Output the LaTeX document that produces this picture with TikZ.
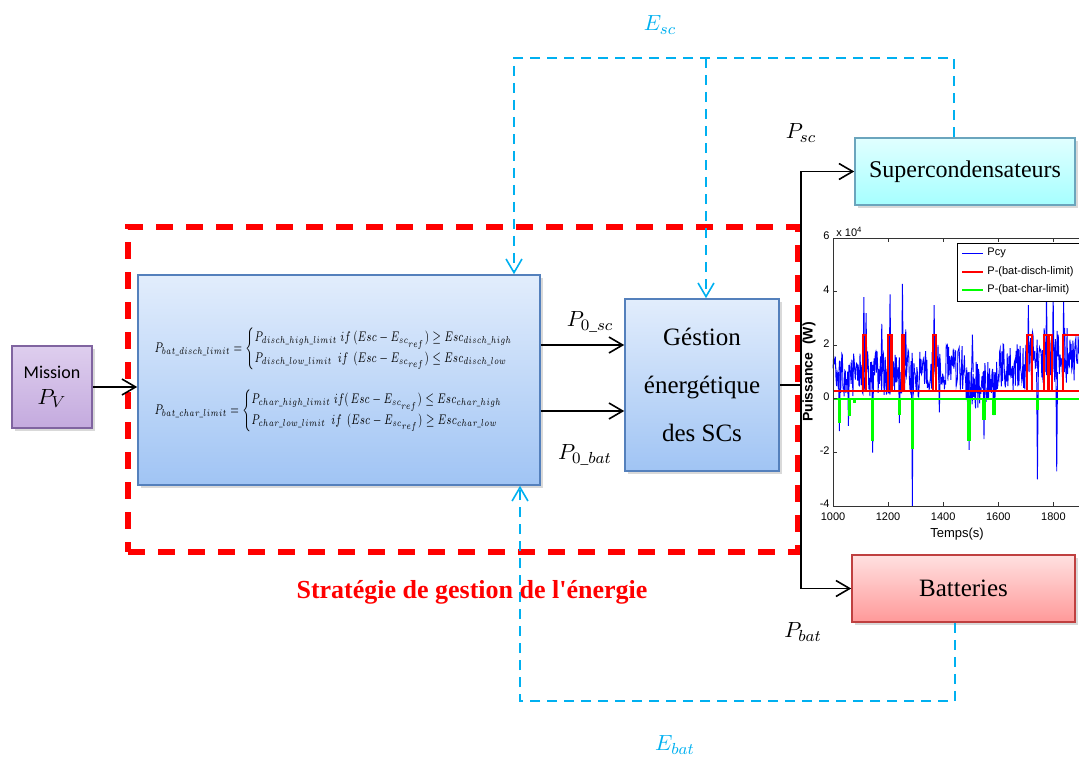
\documentclass[tikz,border=0pt]{standalone}
\usepackage{amsmath}
\usepackage{fontspec}
\setmainfont{Liberation Serif}
\newfontfamily\calfont{Carlito}
\newfontfamily\plotfont{Liberation Sans}
\usetikzlibrary{arrows.meta,shadows}
\definecolor{sigblue}{RGB}{0,176,240}
\definecolor{boxtop}{RGB}{226,237,252}
\definecolor{boxbot}{RGB}{160,196,244}
\definecolor{boxline}{RGB}{84,128,188}
\definecolor{mistop}{RGB}{222,206,238}
\definecolor{misbot}{RGB}{196,170,222}
\definecolor{misline}{RGB}{128,100,160}

\begin{document}
\begin{tikzpicture}[x=0.5pt, y=-0.5pt, >={Straight Barb[length=2.4mm, width=2.8mm]},
	shade/.style={drop shadow={opacity=0.3, shadow xshift=1.5pt, shadow yshift=-1.5pt}},
	box/.style={draw=boxline, thick, top color=boxtop, bottom color=boxbot, shade},
	sig/.style={sigblue, thick, dash pattern=on 5pt off 3.5pt},
	flow/.style={->, thick},
	lab/.style={font=\fontsize{11}{13}\selectfont},
	ticklab/.style={font=\plotfont\fontsize{5.5}{6.5}\selectfont, inner sep=1pt}]
	\useasboundingbox (0,0) rectangle (1079,765);

	\node[draw=misline, thick, top color=mistop, bottom color=misbot, minimum width=40pt, minimum height=41pt, align=center, shade, font=\calfont\fontsize{9}{13}\selectfont] (mission) at (52,387) {Mission\\\fontsize{11}{13}\selectfont$P_V$};
	\node[box, minimum width=201pt, minimum height=105pt, font=\fontsize{7}{8}\selectfont, align=left] (strat) at (339,380) {%
		\scalebox{0.7}[1]{$P_{bat\_disch\_limit}=\begin{cases}P_{disch\_high\_limit}\; if\ (Esc-E_{sc_{ref}})\geq Esc_{disch\_high}\\ P_{disch\_low\_limit}\; \ if\ \ (Esc-E_{sc_{ref}})\leq Esc_{disch\_low}\end{cases}$}\\[9pt]
		\scalebox{0.7}[1]{$P_{bat\_char\_limit}=\begin{cases}P_{char\_high\_limit}\; if(\,Esc-E_{sc_{ref}})\leq Esc_{char\_high}\\ P_{char\_low\_limit}\; \ if\ \ (Esc-E_{sc_{ref}})\geq Esc_{char\_low}\end{cases}$}};
	\node[box, minimum width=77pt, minimum height=86pt, align=center, font=\fontsize{12.5}{24}\selectfont] (gestion) at (702,385) {Géstion\\énergétique\\des SCs};
	\node[draw=cyan!45!gray, thick, top color=cyan!12, bottom color=cyan!35, minimum width=110pt, minimum height=33.5pt, shade, font=\fontsize{12}{15}\selectfont] (super) at (965,171.5) {Supercondensateurs};
	\node[draw=red!50!gray, thick, top color=red!12, bottom color=red!40, minimum width=111.5pt, minimum height=33.5pt, shade, font=\fontsize{12.5}{15}\selectfont] (batt) at (963.5,588.5) {Batteries};
	\node[draw=red, line width=3pt, dash pattern=on 8.5pt off 6.5pt, minimum width=335pt, minimum height=162.5pt] (zone) at (463,389.5) {};
	\node[text=red, font=\bfseries\fontsize{13}{15}\selectfont] (zonelab) at (472,592) {Stratégie de gestion de l\textquotesingle énergie};

	\draw[flow] (mission.east) -- (mission.east -| strat.west);
	\draw[flow] ([yshift=17.5pt]strat.east) -- ([yshift=17.5pt]strat.east -| gestion.west);
	\draw[flow] ([yshift=-15.5pt]strat.east) -- ([yshift=-15.5pt]strat.east -| gestion.west);
	\node[lab] (p0sc) at (590,322) {$P_{0\_sc}$};
	\node[lab] (p0bat) at (585,455) {$P_{0\_bat}$};

	\coordinate (split) at (gestion.east -| zone.east);
	\draw[thick] (gestion.east) -- (split);
	\draw[flow] (split) |- (super.west);
	\draw[flow] (split) |- (batt.west);
	\node[lab] (psc) at (801,133) {$P_{sc}$};
	\node[lab] (pbat) at (803,632) {$P_{bat}$};

	\coordinate (esc1) at (514,58);
	\coordinate (esc2) at (706,58);
	\coordinate (esc3) at (954,58);
	\draw[sig, ->] (super.north -| esc3) -- (esc3) -- (esc1) -- (esc1 |- strat.north);
	\draw[sig, ->] (esc2) -- (esc2 |- gestion.north);
	\node[lab, text=sigblue] (esclab) at (660,25) {$E_{sc}$};
	\coordinate (eb1) at (520,701);
	\coordinate (eb2) at (955,701);
	\draw[sig, ->] (batt.south -| eb2) -- (eb2) -- (eb1) -- (eb1 |- strat.south);
	\node[lab, text=sigblue] (eblab) at (675,745) {$E_{bat}$};

	\begin{scope}
		\clip (790,215) rectangle (1079,545);
		\fill[white] (833,238) rectangle (1110,506);
		\begin{scope}[shift={(833,399)}, x=0.13775pt, y=13.4pt]
			\pgfmathsetseed{7}
			\draw[blue, line width=0.45pt] plot[domain=0:892, samples=420] (\x, {0.95+0.9*rand+0.3*(\x>370)*(\x<480)-0.4*(\x>480)*(\x<600)+0.2*(\x>600)*(\x<700)+0.7*(\x>700)+0.5*rand*(\x>700)});
			\foreach \t/\p in {112/3.8,120/3.2,177/2.8,207/3.9,252/4.3,264/2.6,367/3.5,506/2.4,709/3.5,775/4,799/4,837/3.8,23/-1.2,56/-1.0,144/-2.0,288/-4.0,241/-0.9,386/-0.5,494/-1.9,548/-1.5,584/-0.6,742/-3.0,812/-2.7}
				\draw[blue, line width=0.45pt] (\t-3,1) -- (\t,\p) -- (\t+3,1);
			\draw[red, line width=1.1pt] (0,0.3) -- (892,0.3);
			\foreach \a/\b in {108/120,200/212,250/257,364/374,705/722,766/780,785/796,835/900}
				\draw[red, line width=1.1pt] (\a,0.3) -- (\a,2.4) -- (\b,2.4) -- (\b,0.3);
			\draw[green, line width=1.1pt] (0,0) -- (892,0);
			\foreach \t/\p in {23/-0.9,60/-0.65,78/-0.15,144/-1.55,241/-0.6,288/-1.85,494/-1.55,548/-0.8,584/-0.6,742/-0.4}
				\draw[green, line width=1.8pt] (\t,0) -- (\t,\p);
		\end{scope}
		\draw[gray!40!black, line width=0.5pt] (833,238) rectangle (1110,506);
		\foreach \k in {0,...,4} {
			\pgfmathsetmacro{\xx}{833+55.1*\k}
			\pgfmathtruncatemacro{\tv}{1000+200*\k}
			\draw[gray!40!black, line width=0.4pt] (\xx,506) -- (\xx,502) (\xx,238) -- (\xx,242);
			\node[ticklab, anchor=north] (xt\k) at (\xx,510) {\tv};
		}
		\foreach \k/\v in {0/6,1/4,2/2,3/0,4/-2,5/-4} {
			\pgfmathsetmacro{\yy}{238+53.6*\k}
			\draw[gray!40!black, line width=0.4pt] (833,\yy) -- (837,\yy);
			\node[ticklab, anchor=east] (yt\k) at (832,\yy-2) {\v};
		}
		\node[ticklab, anchor=south west] (expo) at (834,239) {x 10$^{\text{4}}$};
		\node[ticklab, rotate=90, font=\plotfont\bfseries\fontsize{7}{8}\selectfont] (ylab) at (809,372) {Puissance \ (W)};
		\node[ticklab, font=\plotfont\fontsize{6.5}{8}\selectfont] (xlab) at (957,534) {Temps(s)};
		\draw[fill=white, line width=0.5pt] (957,243) rectangle (1100,301);
		\foreach \col/\txt/\yy/\lw in {blue/Pcy/253/0.5pt, red/P-(bat-disch-limit)/272/1.1pt, green/P-(bat-char-limit)/290/1.1pt} {
			\draw[\col, line width=\lw] (962,\yy) -- (983,\yy);
			\node[ticklab, anchor=west] (leg\col) at (985,\yy) {\txt};
		}
	\end{scope}
\end{tikzpicture}
\end{document}
